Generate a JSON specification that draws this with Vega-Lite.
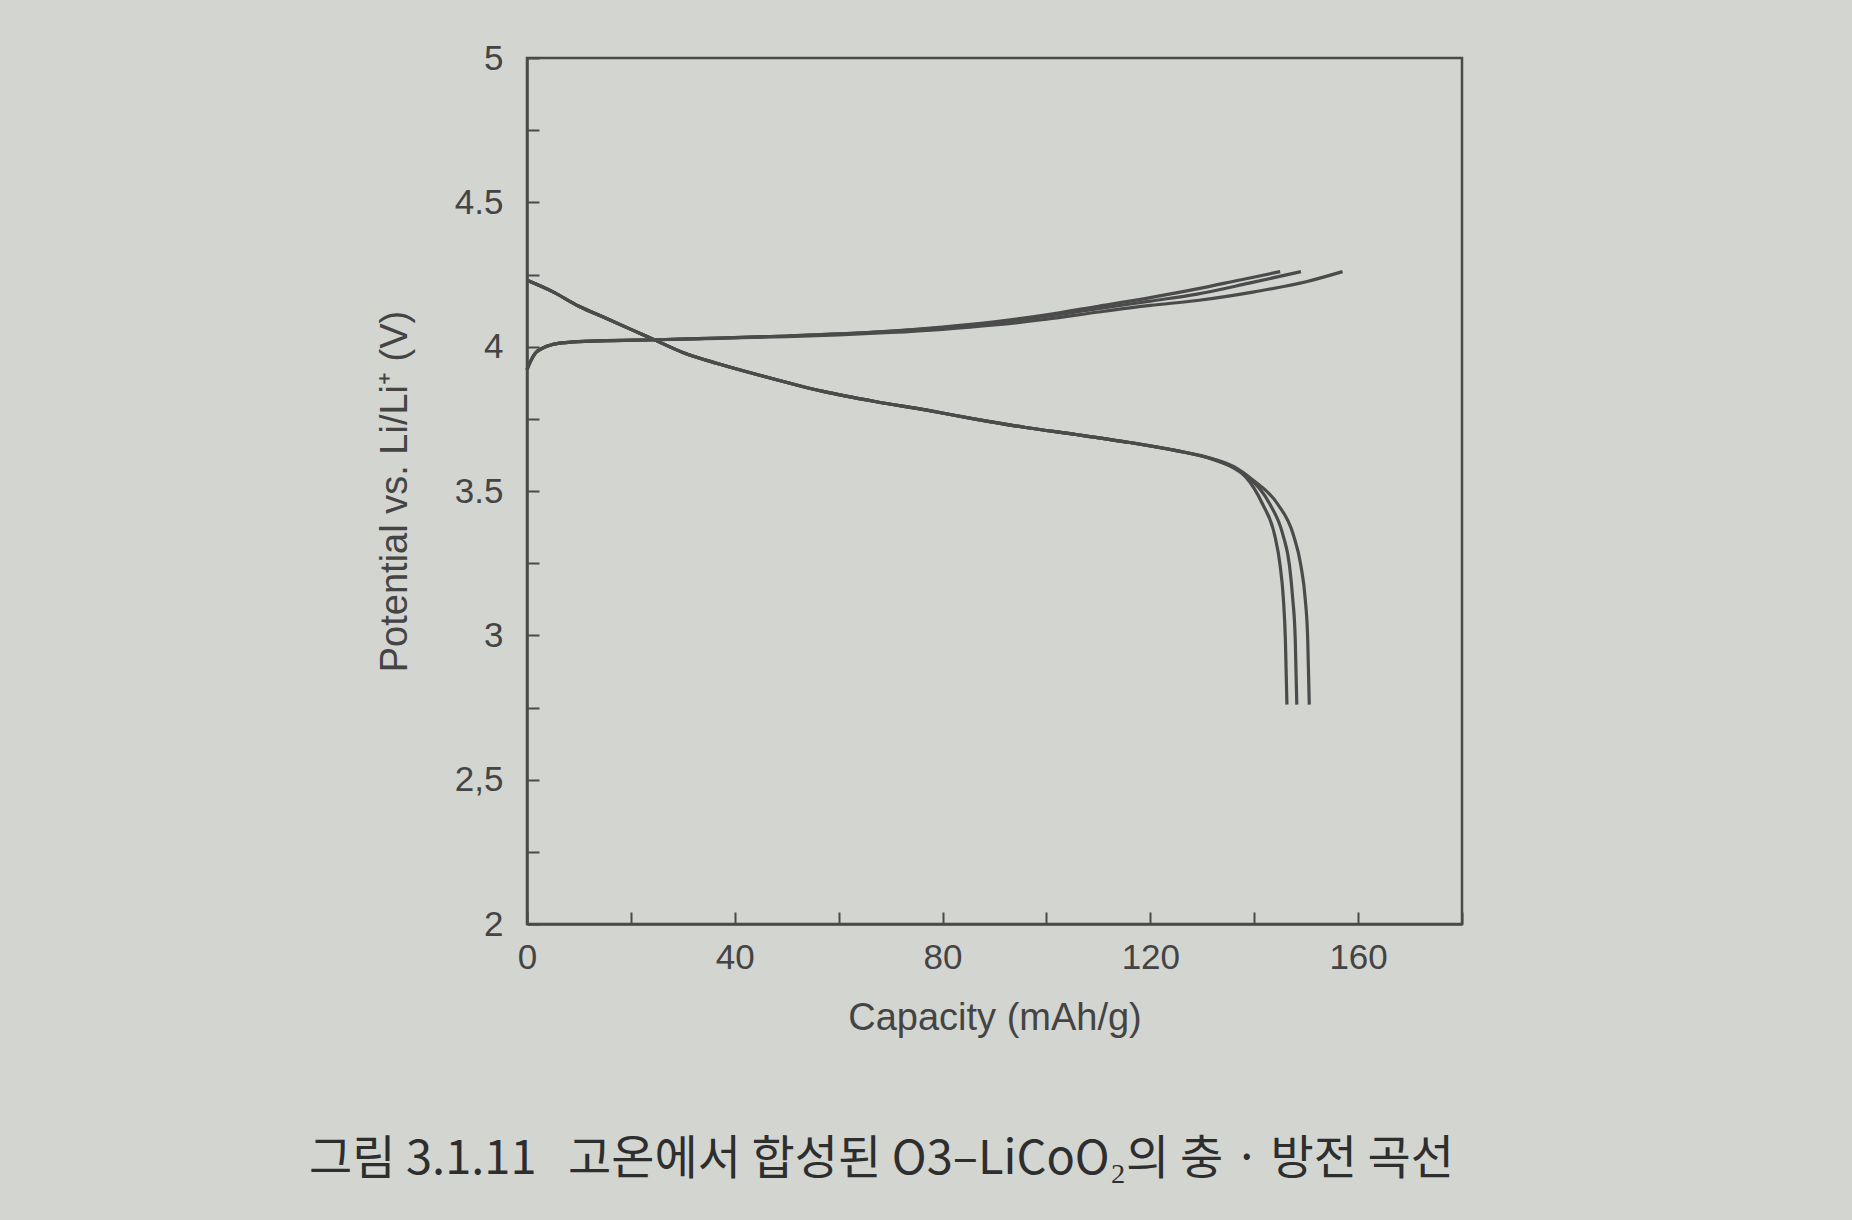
{
  "$schema": "https://vega.github.io/schema/vega-lite/v6.json",
  "autosize": {"type": "none"},
  "width": 935,
  "height": 866,
  "padding": {"left": 527, "top": 58, "right": 390, "bottom": 296},
  "background": "#d3d5d1",
  "title": {
    "text": "그림 3.1.11\u00a0\u00a0\u00a0고온에서 합성된 O3–LiCoO₂의 충 · 방전 곡선",
    "orient": "bottom",
    "anchor": "start",
    "frame": "group",
    "dx": -218,
    "offset": 100,
    "font": "Noto Sans CJK KR",
    "fontSize": 47,
    "fontWeight": "normal",
    "color": "#2e2e2e"
  },
  "config": {
    "view": {"stroke": "#4a4a4a", "strokeWidth": 2.5},
    "axis": {
      "domainColor": "#4a4a4a",
      "domainWidth": 2.5,
      "tickColor": "#4a4a4a",
      "tickWidth": 2,
      "tickSize": -12,
      "grid": false,
      "labelFont": "Liberation Sans",
      "labelFontSize": 35,
      "labelColor": "#444444",
      "titleFont": "Liberation Sans",
      "titleFontSize": 38,
      "titleFontWeight": "normal",
      "titleColor": "#444444"
    }
  },
  "data": {
    "values": [
      {"curve": "c1", "i": 0, "cap": 0, "v": 3.92},
      {"curve": "c1", "i": 1, "cap": 0.7, "v": 3.95},
      {"curve": "c1", "i": 2, "cap": 1.5, "v": 3.975},
      {"curve": "c1", "i": 3, "cap": 3, "v": 3.995},
      {"curve": "c1", "i": 4, "cap": 5, "v": 4.008},
      {"curve": "c1", "i": 5, "cap": 8, "v": 4.015},
      {"curve": "c1", "i": 6, "cap": 14, "v": 4.02},
      {"curve": "c1", "i": 7, "cap": 25, "v": 4.024},
      {"curve": "c1", "i": 8, "cap": 37, "v": 4.03},
      {"curve": "c1", "i": 9, "cap": 50, "v": 4.037},
      {"curve": "c1", "i": 10, "cap": 60, "v": 4.044},
      {"curve": "c1", "i": 11, "cap": 70, "v": 4.054},
      {"curve": "c1", "i": 12, "cap": 80, "v": 4.068},
      {"curve": "c1", "i": 13, "cap": 90, "v": 4.086},
      {"curve": "c1", "i": 14, "cap": 100, "v": 4.11},
      {"curve": "c1", "i": 15, "cap": 110, "v": 4.14},
      {"curve": "c1", "i": 16, "cap": 120, "v": 4.17},
      {"curve": "c1", "i": 17, "cap": 129, "v": 4.2},
      {"curve": "c1", "i": 18, "cap": 137, "v": 4.23},
      {"curve": "c1", "i": 19, "cap": 145, "v": 4.26},

      {"curve": "c2", "i": 0, "cap": 0, "v": 3.92},
      {"curve": "c2", "i": 1, "cap": 0.7, "v": 3.95},
      {"curve": "c2", "i": 2, "cap": 1.5, "v": 3.975},
      {"curve": "c2", "i": 3, "cap": 3, "v": 3.995},
      {"curve": "c2", "i": 4, "cap": 5, "v": 4.008},
      {"curve": "c2", "i": 5, "cap": 8, "v": 4.015},
      {"curve": "c2", "i": 6, "cap": 14, "v": 4.02},
      {"curve": "c2", "i": 7, "cap": 25, "v": 4.024},
      {"curve": "c2", "i": 8, "cap": 37, "v": 4.03},
      {"curve": "c2", "i": 9, "cap": 50, "v": 4.037},
      {"curve": "c2", "i": 10, "cap": 60, "v": 4.044},
      {"curve": "c2", "i": 11, "cap": 70, "v": 4.053},
      {"curve": "c2", "i": 12, "cap": 80, "v": 4.066},
      {"curve": "c2", "i": 13, "cap": 90, "v": 4.083},
      {"curve": "c2", "i": 14, "cap": 100, "v": 4.105},
      {"curve": "c2", "i": 15, "cap": 110, "v": 4.132},
      {"curve": "c2", "i": 16, "cap": 120, "v": 4.158},
      {"curve": "c2", "i": 17, "cap": 129, "v": 4.182},
      {"curve": "c2", "i": 18, "cap": 139, "v": 4.22},
      {"curve": "c2", "i": 19, "cap": 149, "v": 4.26},

      {"curve": "c3", "i": 0, "cap": 0, "v": 3.92},
      {"curve": "c3", "i": 1, "cap": 0.7, "v": 3.95},
      {"curve": "c3", "i": 2, "cap": 1.5, "v": 3.975},
      {"curve": "c3", "i": 3, "cap": 3, "v": 3.995},
      {"curve": "c3", "i": 4, "cap": 5, "v": 4.008},
      {"curve": "c3", "i": 5, "cap": 8, "v": 4.015},
      {"curve": "c3", "i": 6, "cap": 14, "v": 4.02},
      {"curve": "c3", "i": 7, "cap": 25, "v": 4.024},
      {"curve": "c3", "i": 8, "cap": 37, "v": 4.029},
      {"curve": "c3", "i": 9, "cap": 50, "v": 4.035},
      {"curve": "c3", "i": 10, "cap": 60, "v": 4.041},
      {"curve": "c3", "i": 11, "cap": 70, "v": 4.049},
      {"curve": "c3", "i": 12, "cap": 80, "v": 4.06},
      {"curve": "c3", "i": 13, "cap": 90, "v": 4.075},
      {"curve": "c3", "i": 14, "cap": 100, "v": 4.095},
      {"curve": "c3", "i": 15, "cap": 110, "v": 4.12},
      {"curve": "c3", "i": 16, "cap": 120, "v": 4.143},
      {"curve": "c3", "i": 17, "cap": 129, "v": 4.16},
      {"curve": "c3", "i": 18, "cap": 140, "v": 4.19},
      {"curve": "c3", "i": 19, "cap": 150, "v": 4.225},
      {"curve": "c3", "i": 20, "cap": 157, "v": 4.26},

      {"curve": "d1", "i": 0, "cap": 0, "v": 4.23},
      {"curve": "d1", "i": 1, "cap": 5, "v": 4.19},
      {"curve": "d1", "i": 2, "cap": 10, "v": 4.14},
      {"curve": "d1", "i": 3, "cap": 15, "v": 4.1},
      {"curve": "d1", "i": 4, "cap": 20, "v": 4.06},
      {"curve": "d1", "i": 5, "cap": 25, "v": 4.02},
      {"curve": "d1", "i": 6, "cap": 30, "v": 3.98},
      {"curve": "d1", "i": 7, "cap": 37, "v": 3.94},
      {"curve": "d1", "i": 8, "cap": 45, "v": 3.9},
      {"curve": "d1", "i": 9, "cap": 57, "v": 3.845},
      {"curve": "d1", "i": 10, "cap": 67, "v": 3.81},
      {"curve": "d1", "i": 11, "cap": 77, "v": 3.78},
      {"curve": "d1", "i": 12, "cap": 86, "v": 3.75},
      {"curve": "d1", "i": 13, "cap": 96, "v": 3.72},
      {"curve": "d1", "i": 14, "cap": 106, "v": 3.695},
      {"curve": "d1", "i": 15, "cap": 116, "v": 3.668},
      {"curve": "d1", "i": 16, "cap": 125, "v": 3.64},
      {"curve": "d1", "i": 17, "cap": 132, "v": 3.61},
      {"curve": "d1", "i": 18, "cap": 136, "v": 3.58},
      {"curve": "d1", "i": 19, "cap": 138.3, "v": 3.55},
      {"curve": "d1", "i": 20, "cap": 141.6, "v": 3.455},
      {"curve": "d1", "i": 21, "cap": 143.9, "v": 3.35},
      {"curve": "d1", "i": 22, "cap": 145, "v": 3.24},
      {"curve": "d1", "i": 23, "cap": 145.6, "v": 3.13},
      {"curve": "d1", "i": 24, "cap": 146, "v": 2.985},
      {"curve": "d1", "i": 25, "cap": 146.3, "v": 2.76},

      {"curve": "d2", "i": 0, "cap": 0, "v": 4.23},
      {"curve": "d2", "i": 1, "cap": 5, "v": 4.19},
      {"curve": "d2", "i": 2, "cap": 10, "v": 4.14},
      {"curve": "d2", "i": 3, "cap": 15, "v": 4.1},
      {"curve": "d2", "i": 4, "cap": 20, "v": 4.06},
      {"curve": "d2", "i": 5, "cap": 25, "v": 4.02},
      {"curve": "d2", "i": 6, "cap": 30, "v": 3.98},
      {"curve": "d2", "i": 7, "cap": 37, "v": 3.94},
      {"curve": "d2", "i": 8, "cap": 45, "v": 3.9},
      {"curve": "d2", "i": 9, "cap": 57, "v": 3.845},
      {"curve": "d2", "i": 10, "cap": 67, "v": 3.81},
      {"curve": "d2", "i": 11, "cap": 77, "v": 3.78},
      {"curve": "d2", "i": 12, "cap": 86, "v": 3.75},
      {"curve": "d2", "i": 13, "cap": 96, "v": 3.72},
      {"curve": "d2", "i": 14, "cap": 106, "v": 3.695},
      {"curve": "d2", "i": 15, "cap": 116, "v": 3.668},
      {"curve": "d2", "i": 16, "cap": 125, "v": 3.64},
      {"curve": "d2", "i": 17, "cap": 132, "v": 3.61},
      {"curve": "d2", "i": 18, "cap": 136, "v": 3.582},
      {"curve": "d2", "i": 19, "cap": 139, "v": 3.545},
      {"curve": "d2", "i": 20, "cap": 143, "v": 3.455},
      {"curve": "d2", "i": 21, "cap": 145.5, "v": 3.35},
      {"curve": "d2", "i": 22, "cap": 146.8, "v": 3.24},
      {"curve": "d2", "i": 23, "cap": 147.4, "v": 3.13},
      {"curve": "d2", "i": 24, "cap": 147.9, "v": 2.985},
      {"curve": "d2", "i": 25, "cap": 148.2, "v": 2.76},

      {"curve": "d3", "i": 0, "cap": 0, "v": 4.23},
      {"curve": "d3", "i": 1, "cap": 5, "v": 4.19},
      {"curve": "d3", "i": 2, "cap": 10, "v": 4.14},
      {"curve": "d3", "i": 3, "cap": 15, "v": 4.1},
      {"curve": "d3", "i": 4, "cap": 20, "v": 4.06},
      {"curve": "d3", "i": 5, "cap": 25, "v": 4.02},
      {"curve": "d3", "i": 6, "cap": 30, "v": 3.98},
      {"curve": "d3", "i": 7, "cap": 37, "v": 3.94},
      {"curve": "d3", "i": 8, "cap": 45, "v": 3.9},
      {"curve": "d3", "i": 9, "cap": 57, "v": 3.845},
      {"curve": "d3", "i": 10, "cap": 67, "v": 3.81},
      {"curve": "d3", "i": 11, "cap": 77, "v": 3.78},
      {"curve": "d3", "i": 12, "cap": 86, "v": 3.75},
      {"curve": "d3", "i": 13, "cap": 96, "v": 3.72},
      {"curve": "d3", "i": 14, "cap": 106, "v": 3.695},
      {"curve": "d3", "i": 15, "cap": 116, "v": 3.668},
      {"curve": "d3", "i": 16, "cap": 125, "v": 3.64},
      {"curve": "d3", "i": 17, "cap": 132, "v": 3.612},
      {"curve": "d3", "i": 18, "cap": 136, "v": 3.585},
      {"curve": "d3", "i": 19, "cap": 139.6, "v": 3.54},
      {"curve": "d3", "i": 20, "cap": 144.5, "v": 3.455},
      {"curve": "d3", "i": 21, "cap": 147.5, "v": 3.35},
      {"curve": "d3", "i": 22, "cap": 149, "v": 3.24},
      {"curve": "d3", "i": 23, "cap": 149.8, "v": 3.13},
      {"curve": "d3", "i": 24, "cap": 150.3, "v": 2.985},
      {"curve": "d3", "i": 25, "cap": 150.6, "v": 2.76}
    ]
  },
  "mark": {"type": "line", "interpolate": "monotone", "color": "#4b4b4b", "strokeWidth": 3.2},
  "encoding": {
    "x": {
      "field": "cap",
      "type": "quantitative",
      "scale": {"domain": [0, 180], "nice": false, "zero": false},
      "axis": {
        "title": "Capacity (mAh/g)",
        "values": [0, 20, 40, 60, 80, 100, 120, 140, 160, 180],
        "labelExpr": "datum.value % 40 === 0 && datum.value < 180 ? datum.label : ''",
        "labelPadding": 28,
        "titlePadding": 24,
        "labelFlush": false,
        "labelOverlap": false
      }
    },
    "y": {
      "field": "v",
      "type": "quantitative",
      "scale": {"domain": [2, 5], "nice": false, "zero": false},
      "axis": {
        "title": "Potential  vs. Li/Li⁺ (V)",
        "values": [2, 2.25, 2.5, 2.75, 3, 3.25, 3.5, 3.75, 4, 4.25, 4.5, 4.75, 5],
        "labelExpr": "datum.value === 2.5 ? '2,5' : (datum.value * 2) % 1 === 0 ? format(datum.value, '') : ''",
        "labelPadding": 36,
        "titlePadding": 40,
        "labelFlush": false,
        "labelOverlap": false
      }
    },
    "detail": {"field": "curve", "type": "nominal"},
    "order": {"field": "i", "type": "quantitative"}
  }
}
